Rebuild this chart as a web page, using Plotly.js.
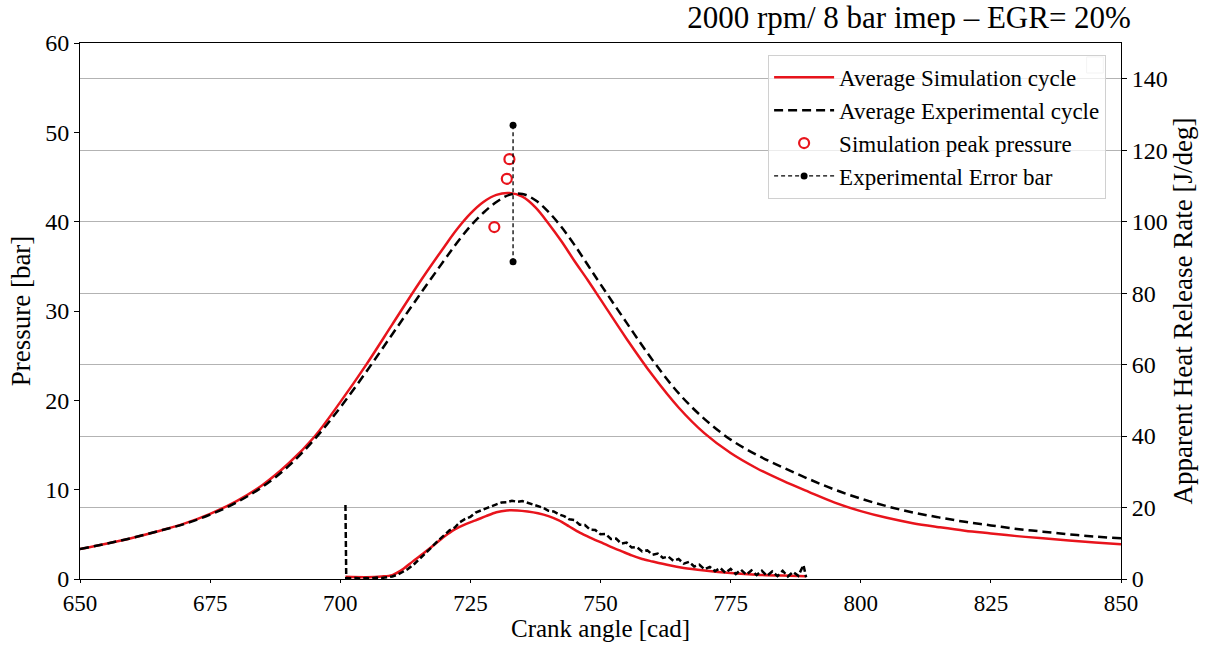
<!DOCTYPE html>
<html>
<head>
<meta charset="utf-8">
<script src="https://cdn.plot.ly/plotly-3.0.1.min.js"></script>
<style>html,body{margin:0;padding:0;background:#fff;}#chart{width:1207px;height:646px;}</style>
</head>
<body>
<div id="chart"></div>
<script>
// Pressure curves (bar) vs crank angle (cad)
var pCad = [650,655,660,665,670,675,680,685,690,695,700,705,710,715,720,722.5,725,727.5,730,732.5,735,737.5,740,742.5,745,747.5,750,755,760,765,770,775,780,785,790,795,800,805,810,815,820,825,830,835,840,845,850];
var pSim = [3.35,3.95,4.6,5.35,6.2,7.3,8.7,10.5,12.9,15.9,19.8,24.0,28.5,33.0,37.2,39.2,40.9,42.2,43.0,43.2,42.8,41.6,39.8,37.8,35.6,33.5,31.3,26.9,22.8,19.2,16.3,14.1,12.4,11.0,9.75,8.55,7.6,6.85,6.25,5.8,5.4,5.1,4.8,4.55,4.3,4.08,3.88];
var pExp = [3.35,3.95,4.6,5.35,6.15,7.2,8.55,10.3,12.6,15.6,19.2,23.2,27.4,31.6,35.7,37.7,39.5,41.0,42.2,43.0,43.1,42.4,41.1,39.4,37.4,35.2,33.0,28.7,24.5,20.8,17.9,15.6,13.9,12.5,11.2,10.0,9.0,8.15,7.45,6.9,6.4,6.0,5.6,5.3,5.0,4.75,4.55];

// Simulation peak pressure points
var peakCad = [729.6,732.0,732.5];
var peakP = [39.4,44.8,47.0];

// Experimental error bar
var errCad = [733.2,733.2];
var errP = [50.8,35.5];

// Apparent heat release rate (J/deg)
var hrrSimCad = [701,705,708,710,712,714,716,718,720,722,724,726,728,730,732,734,736,738,740,742,744,746,748,750,752,754,756,758,760,763,766,770,775,780,785,789.5];
var hrrSim = [0.6,0.5,0.7,1.1,2.7,5.0,7.2,9.5,11.9,13.9,15.3,16.4,17.6,18.7,19.2,19.2,18.9,18.4,17.6,16.4,14.7,13.0,11.6,10.3,9.0,7.8,6.6,5.6,4.9,3.9,3.1,2.4,1.7,1.2,0.95,0.8];

var hrrExpCad = [701,701.15,702,703,704,705,706,707,708,709,710,711,712,713,714,715,716,717,718,719,720,721,722,723,724,725,726,727,728,729,730,731,732,733,734,735,736,737,738,739,740,741,742,743,744,745,746,747,748,749,750,751,752,753,754,755,756,757,758,759,760,761,762,763,764,765,766,767,768,769,770,771,772,773,774,775,776,777,778,779,780,781,782,783,784,785,786,787,788,789,789.5];
var hrrExp = [20.7,0.3,0.2,0.3,0.1,0.3,0.2,0.4,0.3,0.5,0.7,1.2,2.0,2.8,3.9,5.2,6.7,8.1,9.6,11.0,12.3,13.6,14.4,15.9,16.8,17.4,18.6,19.2,19.7,20.5,20.9,21.4,21.5,21.9,21.6,21.8,21.3,21.0,20.3,19.9,19.1,18.9,18.1,17.6,16.7,16.5,15.2,15.1,13.8,13.7,12.5,12.6,11.2,11.3,9.9,10.2,8.8,8.9,7.7,8.0,6.8,7.1,5.9,6.3,5.1,5.6,4.3,4.8,3.5,4.0,2.7,3.4,2.2,3.1,1.7,2.8,1.4,2.6,1.2,2.4,1.1,2.3,0.9,2.1,0.8,2.3,0.7,2.0,0.9,3.9,0.5];

var FONT = 'Liberation Serif, Times New Roman, serif';

var traces = [
  {x: pCad, y: pSim, type: 'scatter', mode: 'lines', name: 'Average Simulation cycle', legendgroup: 'a',
   line: {color: '#e8141c', width: 2.5, shape: 'spline', smoothing: 1}},
  {x: pCad, y: pExp, type: 'scatter', mode: 'lines', name: 'Average Experimental cycle', legendgroup: 'b',
   line: {color: '#000000', width: 2.5, dash: '9px,5px', shape: 'spline', smoothing: 1}},
  {x: peakCad, y: peakP, type: 'scatter', mode: 'markers', name: 'Simulation peak pressure', legendgroup: 'c',
   marker: {symbol: 'circle-open', color: '#e8141c', size: 10, line: {width: 2.2, color: '#e8141c'}}},
  {x: errCad, y: errP, type: 'scatter', mode: 'lines+markers', name: 'Experimental Error bar', legendgroup: 'd',
   line: {color: '#000000', width: 1.3, dash: '4px,3px'}, marker: {color: '#000000', size: 7}},
  {x: hrrSimCad, y: hrrSim, type: 'scatter', mode: 'lines', yaxis: 'y2', showlegend: false,
   line: {color: '#e8141c', width: 2.5, shape: 'spline', smoothing: 0.8}},
  {x: hrrExpCad, y: hrrExp, type: 'scatter', mode: 'lines', yaxis: 'y2', showlegend: false,
   line: {color: '#000000', width: 2.5, dash: '6px,3px'}}
];

var layout = {
  width: 1207, height: 646,
  margin: {l: 80, r: 86, t: 43, b: 67},
  paper_bgcolor: '#ffffff', plot_bgcolor: '#ffffff',
  font: {family: FONT, color: '#000000', size: 24},
  title: {text: '2000 rpm/ 8 bar imep \u2013 EGR= 20%', xref: 'container', yref: 'container',
          x: 0.937, xanchor: 'right', y: 0.99, yanchor: 'top',
          font: {family: FONT, size: 31, color: '#000000'}},
  xaxis: {range: [650, 850], tickvals: [650,675,700,725,750,775,800,825,850],
          showgrid: false, zeroline: false, showline: true, linecolor: '#000', linewidth: 1,
          mirror: true, ticks: 'outside', ticklen: 3, tickcolor: '#000',
          tickfont: {family: FONT, size: 23}},
  yaxis: {range: [0, 60], tickvals: [0,10,20,30,40,50,60], showgrid: false, zeroline: false,
          showline: true, linecolor: '#000', linewidth: 1, ticks: 'outside', ticklen: 5, tickcolor: '#000',
          tickfont: {family: FONT, size: 24},
          title: {text: 'Pressure [bar]', font: {family: FONT, size: 27}, standoff: 6}},
  yaxis2: {range: [0, 150], tickvals: [0,20,40,60,80,100,120,140], overlaying: 'y', side: 'right',
           showgrid: true, gridcolor: '#b3b3b3', gridwidth: 1, zeroline: false,
           showline: true, linecolor: '#000', linewidth: 1, ticks: 'outside', ticklen: 5, tickcolor: '#000',
           tickfont: {family: FONT, size: 24},
           title: {text: 'Apparent Heat Release Rate [J/deg]', font: {family: FONT, size: 27}, standoff: 6}},
  annotations: [
    {text: 'Crank angle [cad]', xref: 'paper', yref: 'paper', x: 0.5, y: -0.119, xanchor: 'center', yanchor: 'bottom',
     showarrow: false, borderpad: 0, font: {family: FONT, size: 25, color: '#000'}}
  ],
  legend: {x: 0.661, y: 0.978, xanchor: 'left', yanchor: 'top', traceorder: 'grouped', tracegroupgap: 0,
           bgcolor: 'rgba(255,255,255,0.75)', bordercolor: '#d0d0d0', borderwidth: 1,
           font: {family: FONT, size: 23}, itemwidth: 60},
  shapes: [
    {type: 'rect', xref: 'paper', yref: 'paper', x0: 0.967, x1: 0.983, y0: 0.944, y1: 0.974,
     line: {color: '#d0d0d0', width: 1}, fillcolor: 'rgba(0,0,0,0)'}
  ],
  showlegend: true
};

Plotly.newPlot('chart', traces, layout, {displayModeBar: false, staticPlot: true});
</script>
</body>
</html>
